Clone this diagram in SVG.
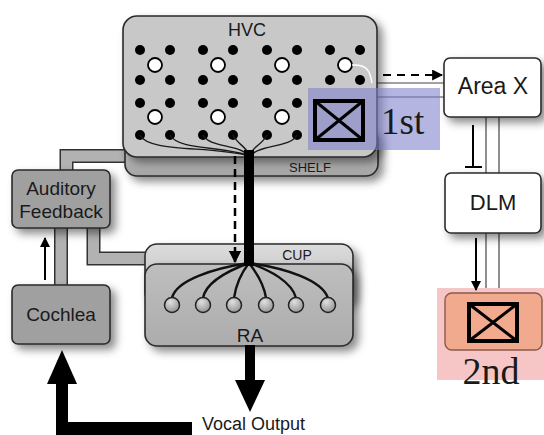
<svg xmlns="http://www.w3.org/2000/svg" width="544" height="435" viewBox="0 0 544 435">
<defs>
<style>
.lbl{font-family:"Liberation Sans","Open Sans",Arial,sans-serif;fill:#1a1a1a;}
.ser{font-family:"Liberation Serif","Times New Roman",serif;fill:#1a1a1a;}
.box{stroke:#2a2a2a;stroke-width:1.6;}
.wire{fill:none;stroke:#1a1a1a;stroke-width:1.4;}
.rwire{fill:none;stroke:#111;stroke-width:2.4;}
.dot{fill:#000;}
.wc{fill:#fff;stroke:#000;stroke-width:1.8;}
.thin{stroke:#444;stroke-width:1.2;fill:none;}
.pipeo{fill:none;stroke:#333;stroke-width:14;stroke-linejoin:miter;}
.pipei{fill:none;stroke:#b2b2b2;stroke-width:11;stroke-linejoin:miter;}
.xb{fill:none;stroke:#000;stroke-width:4;}
.xd{stroke:#000;stroke-width:3;}
.circ{fill:url(#gCirc);stroke:#222;stroke-width:1.5;}
</style>
<filter id="sh" x="-20%" y="-20%" width="150%" height="160%">
<feDropShadow dx="5" dy="5" stdDeviation="4.5" flood-color="#000" flood-opacity="0.45"/>
</filter>
<linearGradient id="gShelf" x1="0" y1="0" x2="0" y2="1">
<stop offset="0" stop-color="#d2d2d2"/><stop offset="1" stop-color="#a4a4a4"/>
</linearGradient>
<linearGradient id="gCup" x1="0" y1="0" x2="0" y2="1">
<stop offset="0" stop-color="#dcdcdc"/><stop offset="1" stop-color="#bcbcbc"/>
</linearGradient>
<linearGradient id="gRA" x1="0" y1="0" x2="0" y2="1">
<stop offset="0" stop-color="#bebebe"/><stop offset="1" stop-color="#acacac"/>
</linearGradient>
<radialGradient id="gCirc" cx="0.4" cy="0.3" r="0.8">
<stop offset="0" stop-color="#e0e0e0"/><stop offset="1" stop-color="#8a8a8a"/>
</radialGradient>
<marker id="ah" viewBox="0 0 10 10" refX="9" refY="5" markerWidth="5" markerHeight="5" orient="auto" markerUnits="strokeWidth">
<path d="M0,0 L10,5 L0,10 z" fill="#000"/>
</marker>
</defs>
<rect width="544" height="435" fill="#fff"/>

<g id="connectors">
<path class="pipeo" d="M66.5,172 V156 H128"/>
<path class="pipei" d="M66.5,172 V156 H128"/>
<path class="pipeo" d="M93.5,226 V258.5 H148"/>
<path class="pipei" d="M93.5,226 V258.5 H148"/>
<path class="pipeo" d="M61,226 V287"/>
<path class="pipei" d="M61,226 V287"/>
<line class="thin" x1="370" y1="83" x2="444" y2="83"/>
<line class="thin" x1="377" y1="97" x2="444" y2="97"/>
<line class="thin" x1="486" y1="117" x2="486" y2="173"/>
<line class="thin" x1="499" y1="117" x2="499" y2="173"/>
<line class="thin" x1="486" y1="233" x2="486" y2="293"/>
<line class="thin" x1="499" y1="233" x2="499" y2="293"/>
</g>

<g id="second-region">
<rect x="437" y="288" width="107" height="92" fill="#f6c6c6"/>
</g>

<g id="shelf">
<rect x="125" y="128" width="253" height="48" rx="12" fill="url(#gShelf)" class="box" filter="url(#sh)"/>
<text class="lbl" x="310" y="172" font-size="13" text-anchor="middle">SHELF</text>
</g>

<g id="hvc">
<rect x="123" y="16" width="254" height="141" rx="14" fill="#c8c8c8" class="box" filter="url(#sh)"/>
<text class="lbl" x="247" y="36" font-size="18" text-anchor="middle">HVC</text>
<g>
<circle class="dot" cx="140" cy="50" r="5"/><circle class="dot" cx="170" cy="50" r="5"/>
<circle class="dot" cx="203" cy="50" r="5"/><circle class="dot" cx="233" cy="50" r="5"/>
<circle class="dot" cx="267" cy="50" r="5"/><circle class="dot" cx="297" cy="50" r="5"/>
<circle class="dot" cx="330" cy="50" r="5"/><circle class="dot" cx="360" cy="50" r="5"/>
<circle class="dot" cx="140" cy="80" r="5"/><circle class="dot" cx="170" cy="80" r="5"/>
<circle class="dot" cx="203" cy="80" r="5"/><circle class="dot" cx="233" cy="80" r="5"/>
<circle class="dot" cx="267" cy="80" r="5"/><circle class="dot" cx="297" cy="80" r="5"/>
<circle class="dot" cx="330" cy="80" r="5"/><circle class="dot" cx="360" cy="80" r="5"/>
<circle class="dot" cx="140" cy="103" r="5"/><circle class="dot" cx="170" cy="103" r="5"/>
<circle class="dot" cx="203" cy="103" r="5"/><circle class="dot" cx="233" cy="103" r="5"/>
<circle class="dot" cx="267" cy="103" r="5"/><circle class="dot" cx="297" cy="103" r="5"/>
<circle class="dot" cx="140" cy="135" r="5"/><circle class="dot" cx="170" cy="135" r="5"/>
<circle class="dot" cx="203" cy="135" r="5"/><circle class="dot" cx="233" cy="135" r="5"/>
<circle class="dot" cx="267" cy="135" r="5"/><circle class="dot" cx="297" cy="135" r="5"/>
<circle class="wc" cx="155" cy="65" r="7"/><circle class="wc" cx="218" cy="65" r="7"/>
<circle class="wc" cx="282" cy="65" r="7"/><circle class="wc" cx="345" cy="65" r="7"/>
<circle class="wc" cx="155" cy="117" r="7"/><circle class="wc" cx="218" cy="117" r="7"/>
<circle class="wc" cx="282" cy="117" r="7"/>
</g>
<path d="M352,65 C366,64 370,70 372,83" fill="none" stroke="#fff" stroke-width="1.5"/>
<path class="wire" d="M140,135 C148,152 205,146 246,155"/>
<path class="wire" d="M170,135 C178,150 220,146 247,155"/>
<path class="wire" d="M203,135 C210,148 238,144 248,155"/>
<path class="wire" d="M233,135 C238,145 246,146 249,155"/>
<path class="wire" d="M267,135 C262,145 253,146 250,155"/>
<path class="wire" d="M297,135 C290,148 262,144 251,155"/>
</g>

<g id="first">
<rect x="308" y="88" width="132" height="62" fill="rgb(128,128,205)" fill-opacity="0.58"/>
<rect class="xb" x="315" y="101" width="48" height="39"/>
<line class="xd" x1="315" y1="101" x2="363" y2="140"/>
<line class="xd" x1="363" y1="101" x2="315" y2="140"/>
<text class="ser" x="381" y="134" font-size="37">1st</text>
</g>

<g id="area-x">
<rect x="444" y="58" width="97" height="59" rx="6" fill="#fff" class="box" filter="url(#sh)"/>
<text class="lbl" x="493" y="94" font-size="23" text-anchor="middle">Area X</text>
</g>

<g id="dlm">
<rect x="445" y="173" width="96" height="60" rx="6" fill="#fff" class="box" filter="url(#sh)"/>
<text class="lbl" x="493" y="210" font-size="22" text-anchor="middle">DLM</text>
</g>

<g id="second">
<rect x="445" y="293" width="97" height="57" rx="7" fill="#f2aa8e" stroke="#8a5a4a" stroke-width="1.4"/>
<rect class="xb" x="469" y="304" width="48" height="37"/>
<line class="xd" x1="469" y1="304" x2="517" y2="341"/>
<line class="xd" x1="517" y1="304" x2="469" y2="341"/>
<text class="ser" x="491" y="384" font-size="38" text-anchor="middle">2nd</text>
</g>

<g id="auditory-feedback">
<rect x="12" y="170" width="98" height="58" rx="6" fill="#a0a0a0" class="box" filter="url(#sh)"/>
<text class="lbl" x="61" y="195" font-size="19" text-anchor="middle">Auditory</text>
<text class="lbl" x="61" y="218" font-size="19" text-anchor="middle">Feedback</text>
</g>

<g id="cochlea">
<rect x="12" y="285" width="98" height="59" rx="6" fill="#a0a0a0" class="box" filter="url(#sh)"/>
<text class="lbl" x="61" y="321" font-size="19" text-anchor="middle">Cochlea</text>
</g>

<g id="cup">
<rect x="145" y="244" width="208" height="60" rx="12" fill="url(#gCup)" class="box" filter="url(#sh)"/>
<text class="lbl" x="297" y="260" font-size="14" text-anchor="middle">CUP</text>
</g>

<g id="ra">
<rect x="145" y="264" width="208" height="82" rx="12" fill="url(#gRA)" class="box" filter="url(#sh)"/>
<text class="lbl" x="250" y="342" font-size="19" text-anchor="middle">RA</text>
<path class="rwire" d="M249,263 C215,268 176,280 172,298"/>
<path class="rwire" d="M249,263 C230,270 206,282 203,298"/>
<path class="rwire" d="M249,263 C242,272 236,284 234,298"/>
<path class="rwire" d="M249,263 C256,272 264,284 266,298"/>
<path class="rwire" d="M249,263 C270,270 292,282 296,298"/>
<path class="rwire" d="M249,263 C285,268 322,280 328,298"/>
<circle class="circ" cx="172" cy="305" r="7.5"/>
<circle class="circ" cx="203" cy="305" r="7.5"/>
<circle class="circ" cx="234" cy="305" r="7.5"/>
<circle class="circ" cx="266" cy="305" r="7.5"/>
<circle class="circ" cx="296" cy="305" r="7.5"/>
<circle class="circ" cx="328" cy="305" r="7.5"/>
</g>

<g id="vocal-output">
<text class="lbl" x="202" y="430" font-size="18">Vocal Output</text>
</g>

<g id="connectors-front">
<rect x="244" y="150" width="10" height="116" fill="#000"/>
<line x1="235" y1="156" x2="235" y2="262" stroke="#000" stroke-width="2.5" stroke-dasharray="8,5" marker-end="url(#ah)"/>
<line x1="383" y1="75" x2="442" y2="75" stroke="#000" stroke-width="2.2" stroke-dasharray="8,6" marker-end="url(#ah)"/>
<line x1="473" y1="125" x2="473" y2="167" stroke="#000" stroke-width="2"/>
<line x1="465" y1="167" x2="482" y2="167" stroke="#000" stroke-width="2"/>
<line x1="476" y1="238" x2="476" y2="290" stroke="#000" stroke-width="2" marker-end="url(#ah)"/>
<line x1="45" y1="280" x2="45" y2="238" stroke="#000" stroke-width="2" marker-end="url(#ah)"/>
<rect x="245" y="345" width="10" height="37" fill="#000"/>
<polygon points="235,380 265,380 250,412" fill="#000"/>
<path d="M192,422 H56 V435 H192 Z" fill="#000"/>
<rect x="56" y="380" width="12" height="55" fill="#000"/>
<polygon points="47,384 77,384 62,350" fill="#000"/>
</g>
</svg>
